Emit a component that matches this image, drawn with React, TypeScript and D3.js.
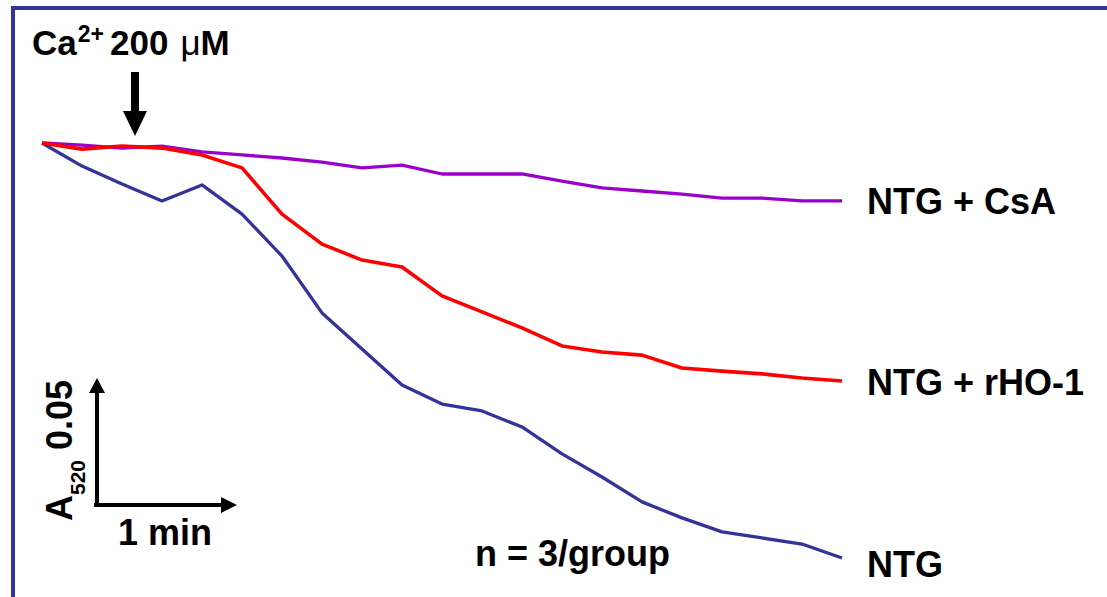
import React from "react";
import * as d3 from "d3";

// Sample index (one reading every ~17 s)
const timePoints = [0, 1, 2, 3, 4, 5, 6, 7, 8, 9, 10, 11, 12, 13, 14, 15, 16, 17, 18, 19, 20];

// Change in A520 relative to start
const ntg = [0, -0.0091, -0.0161, -0.0228, -0.0165, -0.028, -0.0445, -0.0669, -0.0811, -0.0953, -0.1028, -0.1055, -0.1118, -0.1224, -0.1315, -0.1413, -0.1476, -0.1531, -0.1555, -0.1579, -0.1634];
const ntgRho = [0, -0.0024, -0.0012, -0.002, -0.0047, -0.0098, -0.028, -0.0398, -0.0461, -0.0488, -0.0602, -0.0665, -0.0728, -0.0799, -0.0823, -0.0835, -0.0886, -0.0898, -0.0909, -0.0925, -0.0937];
const ntgCsa = [0, -0.0008, -0.002, -0.0012, -0.0035, -0.0047, -0.0059, -0.0075, -0.0098, -0.0087, -0.0122, -0.0122, -0.0122, -0.015, -0.0177, -0.0189, -0.0201, -0.0217, -0.0217, -0.0228, -0.0228];

const seriesNames = ["NTG", "NTG + CsA", "NTG + rHO-1"];
const seriesColors = ["#333399", "#9900CC", "#FF0000"];
const scaleBarA = 0.05;

const W = 1107;
const H = 597;
const FONT = "'Liberation Sans', Arial, Helvetica, sans-serif";

export default function App() {
  const x = d3.scaleLinear().domain([0, 20]).range([42, 842]);
  const y = d3.scaleLinear().domain([0, -0.05]).range([143, 270]);
  const line = d3
    .line<number>()
    .x((_, i) => x(timePoints[i]))
    .y((d) => y(d));

  const series = [ntg, ntgCsa, ntgRho];

  const barLen = y(-scaleBarA) - y(0); // 127 px
  const sbX = 97;
  const sbY = 505;

  return (
    <svg
      width={W}
      height={H}
      style={{ position: "absolute", left: 0, top: 0, display: "block", background: "#fff" }}
      fontFamily={FONT}
    >
      <rect x={0} y={0} width={W} height={H} fill="#fff" />
      {/* frame */}
      <path d={`M13,${H} V8 H${W}`} fill="none" stroke="#333399" strokeWidth={4} />

      {/* series lines */}
      {series.map((s, k) => (
        <path
          key={k}
          d={line(s) || ""}
          fill="none"
          stroke={seriesColors[k]}
          strokeWidth={k === 2 ? 3.6 : 3.3}
          strokeLinejoin="round"
        />
      ))}

      {/* series labels */}
      <text x={867} y={214} fontSize={36} fontWeight="bold" fill="#000">{seriesNames[1]}</text>
      <text x={867} y={395} fontSize={36} fontWeight="bold" fill="#000">{seriesNames[2]}</text>
      <text x={867} y={577} fontSize={36} fontWeight="bold" fill="#000">{seriesNames[0]}</text>

      {/* Ca2+ label */}
      <text x={32} y={55} fontSize={35} fontWeight="bold" fill="#000">
        Ca
        <tspan fontSize={23} dy={-13} dx={1}>2+</tspan>
        <tspan dy={13} dx={6}>200</tspan>
        <tspan dx={12} fontWeight="normal" fontSize={35}>μ</tspan>
        <tspan>M</tspan>
      </text>
      {/* Ca arrow */}
      <rect x={131} y={72} width={8} height={41} fill="#000" />
      <path d="M123,111 L147,111 L135,136 Z" fill="#000" />

      {/* scale bar */}
      <line x1={sbX} y1={sbY} x2={sbX} y2={sbY - barLen + 14} stroke="#000" strokeWidth={4} />
      <path d={`M${sbX - 8},${sbY - barLen + 15} L${sbX + 8},${sbY - barLen + 15} L${sbX},${sbY - barLen} Z`} fill="#000" />
      <line x1={sbX - 3} y1={sbY} x2={222} y2={sbY} stroke="#000" strokeWidth={4} />
      <path d={`M221,${sbY - 8} L221,${sbY + 8} L237,${sbY} Z`} fill="#000" />
      <text x={118} y={545} fontSize={36} fontWeight="bold" fill="#000">1 min</text>
      <text transform="translate(72,521) rotate(-90)" fontSize={36} fontWeight="bold" fill="#000">
        A
        <tspan fontSize={21} dy={13}>520</tspan>
        <tspan dy={-13} dx={10}>{`${scaleBarA}`}</tspan>
      </text>

      {/* n label */}
      <text x={475} y={566} fontSize={36} fontWeight="bold" fill="#000">n = 3/group</text>
    </svg>
  );
}
